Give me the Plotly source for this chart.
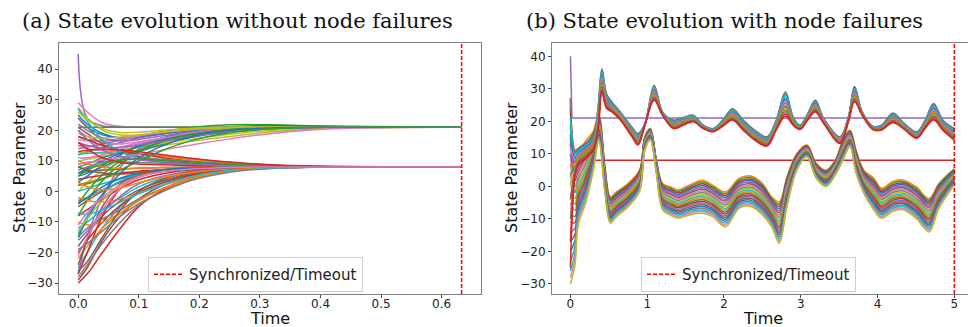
import plotly.graph_objects as go

# ---------------- data ----------------
# Panel (a): sample times and representative trajectories
t_left = [0, 0.015, 0.04, 0.07, 0.1, 0.14, 0.19, 0.25, 0.32, 0.42, 0.633]
left_upper_paths = [
    [45, 24, 21.5, 21.2, 21, 21, 21, 21, 21, 21, 21],
    [29, 26, 22.5, 21.3, 21.1, 21, 21, 21, 21, 21, 21],
    [27.5, 24, 20, 18.5, 18.5, 19.5, 20.5, 21, 21, 21, 21],
    [25, 22, 19, 17.5, 17.8, 18.8, 20, 20.7, 21, 21, 21],
    [21, 21, 21, 21, 21, 21, 21, 21, 21, 21, 21],
    [-27, -15, -2, 8, 14, 17.5, 19.5, 20.5, 21, 21, 21],
    [15, 14, 13.5, 14.5, 16, 17.5, 19, 20.2, 20.8, 21, 21],
    [10, 10.5, 11.5, 12.5, 13.5, 15, 16.5, 18, 19.5, 20.7, 21],
    [5, 6, 8, 10.5, 13, 15.5, 17.8, 19.5, 20.5, 21, 21],
    [18, 17, 16.5, 17, 18, 19.5, 21, 21.8, 21.8, 21.3, 21],
    [12, 13, 14.5, 16, 17.5, 19, 20.3, 21, 21.1, 21, 21],
    [20, 18, 16, 15.5, 16.3, 17.5, 19, 20.2, 20.8, 21, 21],
    [0, 3, 7, 10.5, 13.5, 16, 18.3, 19.8, 20.6, 21, 21],
    [24, 21, 18.5, 17.5, 18, 19, 20.2, 20.9, 21, 21, 21],
    [8, 9, 11, 13, 15, 17, 19, 20.3, 20.9, 21, 21],
    [14, 14.5, 15.5, 16.8, 18, 19.3, 20.4, 21, 21, 21, 21],
    [17, 16.5, 16.5, 17.2, 18.2, 19.5, 20.5, 21.1, 21.2, 21, 21],
    [13, 12.5, 12.8, 13.5, 14.5, 15.8, 17.2, 18.7, 20, 20.8, 21],
    [3, 5, 8.5, 12, 15, 17.5, 19.8, 21.2, 21.6, 21.3, 21],
    [-8, -3, 3.5, 9, 13, 16.3, 18.8, 20.3, 20.9, 21, 21],
    [22, 20, 17.5, 16.5, 17, 18.2, 19.6, 20.6, 21, 21, 21],
    [11, 11, 12, 13.8, 15.6, 17.4, 19.2, 20.4, 20.9, 21, 21],
    [19, 18, 17.5, 17.8, 18.5, 19.4, 20.3, 20.8, 21, 21, 21],
    [6, 7.5, 10, 12.5, 14.6, 16.8, 18.8, 20.1, 20.8, 21, 21],
    [-4, 0, 5.5, 10, 13.5, 16.4, 18.8, 20.3, 20.9, 21, 21],
    [16, 15, 14.3, 14.5, 15.2, 16.4, 18, 19.5, 20.5, 21, 21],
    [9, 9.5, 10.3, 11.2, 12.2, 13.6, 15.3, 17.2, 19, 20.5, 21],
    [26, 23.5, 20.5, 19.3, 19.4, 20, 20.7, 21.1, 21.1, 21, 21],
    [-15, -9, -1, 6, 11, 15, 18.2, 20, 20.8, 21, 21],
    [2, 2.5, 4, 7, 10, 13.5, 16.8, 19.2, 20.5, 21, 21],
]
left_lower_paths = [
    [-30, -27, -20, -12, -5, 0.5, 4.5, 6.8, 7.7, 8, 8],
    [-29, -25, -16, -8, -2.5, 2, 5.2, 7, 7.8, 8, 8],
    [-28, -24, -17, -10, -4.5, 0, 4, 6.5, 7.6, 8, 8],
    [-25, -20, -12, -5, -0.5, 3, 5.8, 7.3, 7.9, 8, 8],
    [-22, -18, -12, -7, -3, 1, 4.5, 6.8, 7.7, 8, 8],
    [-20, -16, -10, -4.5, -0.5, 2.8, 5.5, 7.1, 7.8, 8, 8],
    [-18, -14, -8, -3, 0.5, 3.5, 6, 7.3, 7.9, 8, 8],
    [-15, -12, -9, -6, -2.5, 1, 4.5, 6.7, 7.7, 8, 8],
    [-12, -10, -6, -2, 1.5, 4.3, 6.4, 7.5, 7.9, 8, 8],
    [-10, -11, -10, -7, -3, 0.8, 4.3, 6.6, 7.6, 8, 8],
    [-8, -6, -2.5, 1, 3.8, 5.8, 7.2, 7.8, 8, 8, 8],
    [-5, -3, 0, 3, 5, 6.5, 7.5, 7.9, 8, 8, 8],
    [-3, -2, 0.5, 3.2, 5.2, 6.6, 7.5, 7.9, 8, 8, 8],
    [0, 1, 2.5, 4.2, 5.5, 6.6, 7.4, 7.9, 8, 8, 8],
    [2, 3, 4.3, 5.5, 6.4, 7.1, 7.6, 7.9, 8, 8, 8],
    [4, 4.5, 5.3, 6, 6.6, 7.1, 7.6, 7.9, 8, 8, 8],
    [6, 6.5, 7, 7.3, 7.6, 7.8, 7.9, 8, 8, 8, 8],
    [9, 9.5, 9.8, 9.7, 9.5, 9.2, 8.8, 8.4, 8.1, 8, 8],
    [12, 12.5, 12.6, 12.5, 12.2, 11.6, 10.6, 9.5, 8.6, 8.1, 8],
    [15, 15, 14, 13, 12.3, 11.5, 10.4, 9.4, 8.6, 8.1, 8],
    [18, 17, 15, 13.5, 12.3, 11, 9.8, 8.9, 8.3, 8, 8],
    [21, 19, 15.5, 13, 11.5, 10.2, 9.2, 8.5, 8.1, 8, 8],
    [24, 21, 16.5, 13, 11, 9.7, 8.8, 8.3, 8.05, 8, 8],
    [27, 23, 17, 13, 10.8, 9.5, 8.7, 8.2, 8, 8, 8],
    [10, 9, 8, 7.5, 7.6, 7.8, 7.9, 8, 8, 8, 8],
    [-27, -20, -8, 1, 5, 6.8, 7.6, 7.9, 8, 8, 8],
    [-24, -16, -5, 2.5, 5.7, 7.1, 7.7, 7.95, 8, 8, 8],
    [7, 8, 9.5, 10.5, 10.8, 10.5, 9.8, 9, 8.4, 8.1, 8],
    [-14, -8, -1, 3.5, 5.8, 7, 7.7, 7.95, 8, 8, 8],
    [-2, -3, -3.5, -2.5, -0.5, 2, 4.8, 6.8, 7.7, 8, 8],
    [16, 14, 11, 9.5, 9, 8.7, 8.4, 8.2, 8, 8, 8],
    [-16, -13, -7, -1.5, 2.5, 5, 6.8, 7.6, 7.9, 8, 8],
    [-26, -23, -15, -6, 0, 4, 6.5, 7.6, 7.95, 8, 8],
    [-21, -15, -6, 1, 4.5, 6.5, 7.5, 7.9, 8, 8, 8],
    [-19, -17, -13, -8, -4, 0, 3.8, 6.3, 7.5, 8, 8],
    [-13, -9, -3, 2, 4.8, 6.6, 7.5, 7.9, 8, 8, 8],
    [-7, -7.5, -6, -3.5, -0.8, 2.2, 5, 6.9, 7.7, 8, 8],
    [-4, -2, 1.5, 4.3, 6, 7.1, 7.7, 7.95, 8, 8, 8],
    [3, 1.5, 0.5, 1.2, 2.8, 4.6, 6.3, 7.4, 7.9, 8, 8],
    [5, 7, 9, 10.2, 10.5, 10.2, 9.6, 8.9, 8.4, 8.1, 8],
    [13, 13.5, 13.8, 13.6, 13, 12, 10.8, 9.6, 8.7, 8.2, 8],
    [20, 17, 13.5, 11.5, 10.4, 9.6, 8.9, 8.4, 8.1, 8, 8],
    [8, 7, 6, 5.8, 6, 6.6, 7.2, 7.7, 7.95, 8, 8],
    [-11, -7, -2, 2.2, 4.8, 6.5, 7.4, 7.85, 8, 8, 8],
]
timeout_left = 0.633

# Panel (b): band edges read at key times, plus starting values
t_up = [0.06, 0.1, 0.2, 0.3, 0.36, 0.41, 0.47, 0.54, 0.65, 0.8, 0.88, 0.97, 1.09, 1.2, 1.34,
        1.47, 1.6, 1.73, 1.86, 2.0, 2.11, 2.25, 2.4, 2.56, 2.68, 2.8, 2.9, 2.99, 3.09, 3.19,
        3.3, 3.51, 3.62, 3.7, 3.8, 3.94, 4.05, 4.2, 4.35, 4.51, 4.62, 4.73, 4.85, 5.0]
upper_top = [11, 11.7, 13.5, 15.3, 24.5, 36.2, 28.5, 26, 22.9, 18.3, 16.3, 19.3, 31.1, 22.9, 20.4,
             21.2, 21.9, 18.8, 17.8, 20.9, 23.9, 20.4, 17.3, 15.3, 20.4, 29.1, 21.4, 18.8, 22.4, 26.5,
             20.9, 15.3, 21.4, 30.8, 22.9, 18.5, 18.8, 22.6, 19.3, 16.8, 20.4, 25.5, 20.4, 17.8]
upper_bot = [3, 6.5, 8.5, 11.2, 17.3, 29, 24, 22.9, 20.4, 15.3, 12.7, 18.8, 26.5, 21.9, 17.8,
             18.8, 19.9, 17.8, 16.8, 18.8, 20.4, 17.3, 14.2, 12.4, 17.3, 21.6, 18.8, 17.5, 20.4, 22.9,
             19.3, 13.2, 19.9, 26, 21.9, 17.5, 17.3, 19.6, 17.5, 14.8, 17.8, 20.4, 17.3, 14.2]
upper_start = [27, 24, 21, 18, 15, 12, 10, 7, 4, 1, -4, -10, -17, -25]

t_lo = [0.06, 0.1, 0.2, 0.3, 0.37, 0.45, 0.52, 0.6, 0.75, 0.9, 0.97, 1.04, 1.12, 1.2, 1.3,
        1.4, 1.55, 1.72, 1.85, 2.02, 2.2, 2.35, 2.5, 2.62, 2.72, 2.82, 2.95, 3.08, 3.2, 3.33,
        3.45, 3.55, 3.64, 3.72, 3.82, 3.95, 4.05, 4.2, 4.33, 4.5, 4.67, 4.8, 5.0]
lower_top = [11, 10.2, 14, 17, 22.4, 6, -3.2, -1.7, 0.9, 5, 15.3, 17.8, 8.1, 0.9, -0.1,
             -1.1, 0.4, 1.9, 0.4, -1.7, 2.5, 3.2, 0.9, -3.2, -4.8, 2.9, 10.1, 12.7, 7.1, 5,
             8.1, 14.2, 17.3, 11.2, 5, 2.5, -0.6, 1.5, 2, -0.1, -3.7, 0.9, 5.5]
lower_bot = [-24, -12, -5, 5, 14, -2, -11.3, -9.3, -6.3, -1.6, 11.2, 14.2, 4, -7.2, -8.8,
             -9.8, -8.8, -8.3, -9.3, -12.4, -6.7, -6.2, -8.8, -12.4, -17.5, -6.2, 5, 9.1, 2.5, 0,
             3.5, 8.1, 12.2, 4, -2.1, -7.2, -9.8, -7.7, -7.2, -9.8, -14, -6.7, 0.4]
lower_start = [26, 23, 19, 16, 13, 10, 7, 4, 1, -2, -5, -8, -11, -14, -17, -20, -23, -26, -28, -30]

failed_t = [0, 0.02, 5.0]
failed_purple = [40, 21, 21]
failed_red = [27, 8, 8]
timeout_right = 5.0

# ---------------- styling ----------------
TAB10 = ["#1f77b4", "#ff7f0e", "#2ca02c", "#d62728", "#9467bd",
         "#8c564b", "#e377c2", "#7f7f7f", "#bcbd22", "#17becf"]
UPPER_COLOR_IDX = [7, 5, 9, 9, 0, 6, 4, 1, 2, 8, 5, 7, 3, 3]
LOWER_COLOR_IDX = [1, 2, 3, 0, 4, 5, 6, 7, 8, 9, 1, 2, 3, 4, 5, 0, 7, 9, 6, 8]
W, H = 968, 327
YL_RANGE = [-33.6, 48.6]
YR_RANGE = [-33.1, 44.1]
LW = 1.5

fig = go.Figure()

def add_line(x, y, xa, ya, color, shape="spline", width=LW):
    fig.add_trace(go.Scatter(x=x, y=y, mode="lines", xaxis=xa, yaxis=ya,
                             line=dict(color=color, width=width, shape=shape),
                             showlegend=False, hoverinfo="skip"))

# Panel (a) trajectories (interleave the two clusters like the original drawing order)
paths = []
for i in range(max(len(left_upper_paths), len(left_lower_paths))):
    if i < len(left_lower_paths):
        paths.append(left_lower_paths[i])
    if i < len(left_upper_paths):
        paths.append(left_upper_paths[i])
ci = 3
for p in paths:
    add_line(t_left, p, "x", "y", TAB10[ci % 10])
    ci += 1

# Panel (b): failed nodes (flat) first
add_line(failed_t, failed_purple, "x2", "y2", TAB10[4], shape="linear")
add_line(failed_t, failed_red, "x2", "y2", TAB10[3], shape="linear")

def band(times, top, bot, starts, color_idx):
    n = len(starts)
    for i in range(n):
        f = i / (n - 1)
        ys = [starts[i]] + [a + (b - a) * f for a, b in zip(top, bot)]
        xs = [0] + list(times)
        add_line(xs, ys, "x2", "y2", TAB10[color_idx[i % len(color_idx)]])

band(t_lo, lower_top, lower_bot, lower_start, LOWER_COLOR_IDX)
band(t_up, upper_top, upper_bot, upper_start, UPPER_COLOR_IDX)

# Timeout lines (legend entries)
fig.add_trace(go.Scatter(x=[timeout_left, timeout_left], y=YL_RANGE, mode="lines",
                         xaxis="x", yaxis="y", name="Synchronized/Timeout", legend="legend",
                         line=dict(color="red", width=1.5, dash="4px,2px")))
fig.add_trace(go.Scatter(x=[timeout_right, timeout_right], y=YR_RANGE, mode="lines",
                         xaxis="x2", yaxis="y2", name="Synchronized/Timeout", legend="legend2",
                         line=dict(color="red", width=1.5, dash="4px,2px")))

tickfont = dict(family="DejaVu Sans", size=12, color="#222")
axis_common = dict(showgrid=False, zeroline=False, showline=True, linecolor="#808080",
                   linewidth=1, ticks="outside", ticklen=3, tickcolor="#444",
                   tickfont=tickfont)
ydom = [1 - 294 / H, 1 - 43 / H]

legend_common = dict(xanchor="left", yanchor="top", bordercolor="#d0d0d0", borderwidth=1,
                     bgcolor="rgba(255,255,255,0.85)",
                     font=dict(family="DejaVu Sans", size=15, color="#222"),
                     itemwidth=30, tracegroupgap=0)

fig.update_layout(
    width=W, height=H, margin=dict(l=0, r=0, t=0, b=0),
    paper_bgcolor="white", plot_bgcolor="white", showlegend=True,
    xaxis=dict(domain=[59 / W, 481 / W], range=[-0.0317, 0.665], anchor="y", mirror=True,
               tickvals=[0, 0.1, 0.2, 0.3, 0.4, 0.5, 0.6], ticklabelstandoff=-4,
               ticktext=["0.0", "0.1", "0.2", "0.3", "0.4", "0.5", "0.6"], **axis_common),
    yaxis=dict(domain=ydom, range=YL_RANGE, anchor="x", mirror=True,
               tickvals=[-30, -20, -10, 0, 10, 20, 30, 40],
               ticktext=["\u221230", "\u221220", "\u221210", "0", "10", "20", "30", "40"],
               **axis_common),
    xaxis2=dict(domain=[552 / W, 1.0], range=[-0.24, 5.178], anchor="y2", mirror=True,
                tickvals=[0, 1, 2, 3, 4, 5], ticklabelstandoff=-4, **axis_common),
    yaxis2=dict(domain=ydom, range=YR_RANGE, anchor="x2", mirror=False,
                tickvals=[-30, -20, -10, 0, 10, 20, 30, 40],
                ticktext=["\u221230", "\u221220", "\u221210", "0", "10", "20", "30", "40"],
                **axis_common),
    legend=dict(x=148 / W, y=1 - 257 / H, **legend_common),
    legend2=dict(x=641 / W, y=1 - 257 / H, **legend_common),
)

serif = dict(family="DejaVu Serif", size=21, color="#111")
sans16 = dict(family="DejaVu Sans", size=16, color="#111")
annots = [
    dict(text="(a) State evolution without node failures", x=20 / W, y=1 - 21 / H,
         xanchor="left", yanchor="middle", font=serif),
    dict(text="(b) State evolution with node failures", x=524 / W, y=1 - 21 / H,
         xanchor="left", yanchor="middle", font=serif),
    dict(text="Time", x=270 / W, y=1 - 318 / H, xanchor="center", yanchor="middle", font=sans16),
    dict(text="Time", x=763 / W, y=1 - 318 / H, xanchor="center", yanchor="middle", font=sans16),
    dict(text="State Parameter", x=19 / W, y=1 - 168 / H, xanchor="center", yanchor="middle",
         textangle=-90, font=sans16),
    dict(text="State Parameter", x=511 / W, y=1 - 168 / H, xanchor="center", yanchor="middle",
         textangle=-90, font=sans16),
]
for a in annots:
    fig.add_annotation(xref="paper", yref="paper", showarrow=False, **a)

fig.write_html("out.html")
